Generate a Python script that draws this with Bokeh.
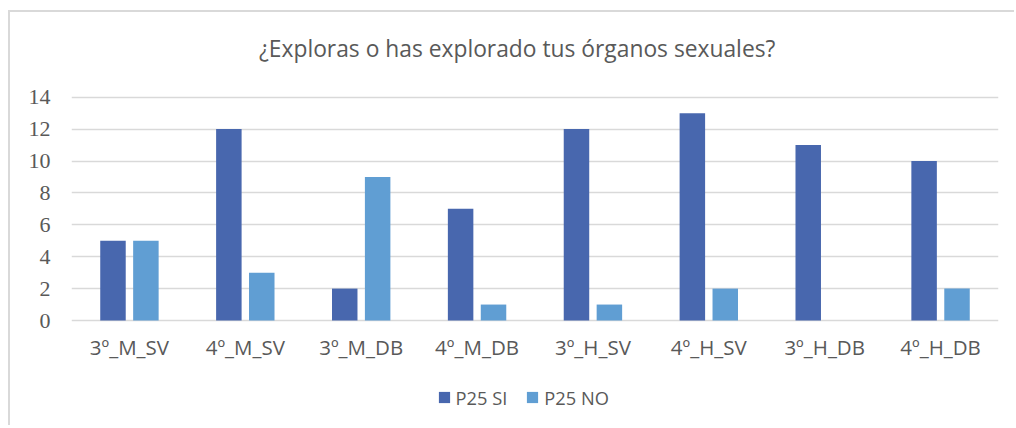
from bokeh.plotting import figure
from bokeh.models import ColumnDataSource, FactorRange, Range1d, Legend, LegendItem, Label
from bokeh.transform import dodge
from bokeh.embed import file_html
from bokeh.resources import INLINE

categories = ["3º_M_SV", "4º_M_SV", "3º_M_DB", "4º_M_DB", "3º_H_SV", "4º_H_SV", "3º_H_DB", "4º_H_DB"]
si_values = [5, 12, 2, 7, 12, 13, 11, 10]
no_values = [5, 3, 9, 1, 1, 2, 0, 2]
series_names = ["P25 SI", "P25 NO"]
y_ticks = [0, 2, 4, 6, 8, 10, 12, 14]
title_text = "¿Exploras o has explorado tus órganos sexuales?"

SI_COLOR = "#4867AE"
NO_COLOR = "#609ED3"
TEXT_COLOR = "#595959"
GRID_COLOR = "#D9D9D9"

# layout (pixels)
W, H = 1006, 415
FRAME_LEFT, FRAME_RIGHT = 61, 18
PX_PER_UNIT = 15.95
ZERO_FROM_BOTTOM = 107         # canvas px from bottom to the value-0 line
y_lo = -ZERO_FROM_BOTTOM / PX_PER_UNIT
y_hi = y_lo + H / PX_PER_UNIT
label_y = -26 / PX_PER_UNIT    # category labels 26px below baseline

source = ColumnDataSource(dict(cat=categories, si=si_values, no=no_values))

p = figure(
    x_range=FactorRange(*categories, range_padding=0),
    y_range=Range1d(y_lo, y_hi),
    width=W, height=H,
    output_backend="svg", toolbar_location=None,
    min_border_left=FRAME_LEFT, min_border_right=FRAME_RIGHT, min_border_top=0, min_border_bottom=0,
)
p.styles = {"border-left": "2px solid #D9D9D9", "border-top": "2px solid #D9D9D9",
            "margin-top": "10px", "margin-left": "8px"}
p.outline_line_color = None
p.background_fill_color = "white"
p.border_fill_color = "white"

r_si = p.vbar(x=dodge("cat", -0.142, range=p.x_range), top="si", width=0.22, source=source,
              fill_color=SI_COLOR, line_color=None)
r_no = p.vbar(x=dodge("cat", 0.142, range=p.x_range), top="no", width=0.22, source=source,
              fill_color=NO_COLOR, line_color=None)

p.text(x="cat", y=label_y, text="cat", source=source, text_align="center", text_baseline="middle",
       text_font={"value": "Open Sans"}, text_font_size="20.5px", text_color=TEXT_COLOR)

p.xaxis.visible = False
p.xgrid.grid_line_color = None
p.ygrid.grid_line_color = GRID_COLOR
p.ygrid.grid_line_width = 1.5
p.yaxis.ticker = y_ticks
p.yaxis.axis_line_color = None
p.yaxis.major_tick_line_color = None
p.yaxis.minor_tick_line_color = None
p.yaxis.major_label_text_font = "Liberation Serif"
p.yaxis.major_label_text_font_size = "22px"
p.yaxis.major_label_text_color = TEXT_COLOR
p.yaxis.major_label_standoff = 15

title = Label(x=445.7, y=H - 36, x_units="screen", y_units="screen", text=title_text,
              text_align="center", text_baseline="middle", text_font="Open Sans",
              text_font_size="22.8px", text_color=TEXT_COLOR)
p.add_layout(title)

legend = Legend(items=[LegendItem(label=series_names[0], renderers=[r_si]),
                       LegendItem(label=series_names[1], renderers=[r_no])],
                location=(365.5, 17.5), orientation="horizontal",
                padding=0, margin=0, spacing=18, border_line_color=None,
                background_fill_alpha=0,
                glyph_width=14, glyph_height=14, label_standoff=5,
                label_text_font="Open Sans", label_text_font_size="18.3px",
                label_text_color=TEXT_COLOR)
p.add_layout(legend)

open("out.html", "w").write(file_html(p, INLINE))
